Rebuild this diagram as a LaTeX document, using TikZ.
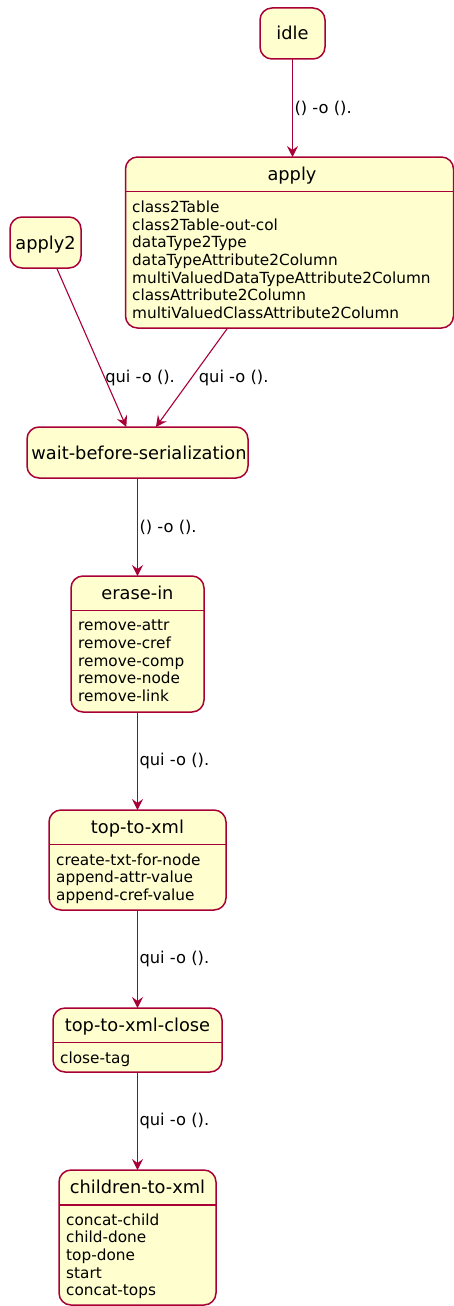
\documentclass[tikz,border=0pt]{standalone}
\usepackage{fontspec}
\setmainfont{DejaVu Sans}
\usetikzlibrary{arrows.meta}
\definecolor{bord}{HTML}{A80036}
\definecolor{fillc}{HTML}{FEFECE}
\begin{document}
\begin{tikzpicture}[x=1pt,y=-1pt,
  st/.style={draw=bord, fill=fillc, line width=1.5pt, rounded corners=12pt, inner sep=0pt, outer sep=0pt},
  ttl/.style={font=\fontsize{17.8}{20}\selectfont, anchor=base, inner sep=0pt},
  itm/.style={font=\fontsize{15.3}{17.7}\selectfont, anchor=base west, inner sep=0pt, text width=330pt, align=left},
  lbl/.style={font=\fontsize{16.3}{18}\selectfont, anchor=west, inner sep=1.5pt},
  sep/.style={draw=bord, line width=1.5pt},
  tr/.style={draw=bord, line width=1.1pt, -{Stealth[length=11pt,width=11pt,inset=4pt]}}
]
\useasboundingbox (0,0) rectangle (454,1306);

% states
\node[st, minimum width=65pt, minimum height=51pt] (idle) at (292.5,33.5) {};
\node[ttl] (idleT) at (292.5,40) {idle};

\node[st, minimum width=328pt, minimum height=171pt] (apply) at (289.5,242.5) {};
\node[ttl] (applyT) at (292,180) {apply};
\draw[sep] (125.5,191.7) -- (453.5,191.7);
\node[itm] (applyI) at (132,212.3) {class2Table\\class2Table-out-col\\dataType2Type\\dataTypeAttribute2Column\\multiValuedDataTypeAttribute2Column\\classAttribute2Column\\multiValuedClassAttribute2Column};

\node[st, minimum width=71pt, minimum height=51pt] (apply2) at (45.5,242.5) {};
\node[ttl] (apply2T) at (45.5,249) {apply2};

\node[st, minimum width=221pt, minimum height=51pt] (wait) at (137.5,452.5) {};
\node[ttl] (waitT) at (139,459) {wait-before-serialization};

\node[st, minimum width=133pt, minimum height=136pt] (erase) at (137.5,644) {};
\node[ttl] (eraseT) at (137.5,599.5) {erase-in};
\draw[sep] (71,610.7) -- (204,610.7);
\node[itm] (eraseI) at (78,630.7) {remove-attr\\remove-cref\\remove-comp\\remove-node\\remove-link};

\node[st, minimum width=177pt, minimum height=100pt] (top) at (137.5,860) {};
\node[ttl] (topT) at (137.5,833) {top-to-xml};
\draw[sep] (49,844.3) -- (226,844.3);
\node[itm] (topI) at (56,865) {create-txt-for-node\\append-attr-value\\append-cref-value};

\node[st, minimum width=169pt, minimum height=64pt] (close) at (137.5,1040) {};
\node[ttl] (closeT) at (137.5,1031.5) {top-to-xml-close};
\draw[sep] (53,1042.3) -- (222,1042.3);
\node[itm] (closeI) at (60,1063.3) {close-tag};

\node[st, minimum width=157pt, minimum height=135pt] (child) at (137.5,1237.5) {};
\node[ttl] (childT) at (137.5,1193.5) {children-to-xml};
\draw[sep] (59,1205) -- (216,1205);
\node[itm] (childI) at (66,1225) {concat-child\\child-done\\top-done\\start\\concat-tops};

% transitions
\draw[tr] (idle.south) -- node[lbl, midway] (l1) {() -o ().} (idle.south |- apply.north);
\draw[tr] (apply2) -- node[lbl, pos=0.69, inner sep=0pt] (l2) {qui -o ().} (wait);
\draw[tr] (apply) -- node[lbl, midway, xshift=5pt] (l3) {qui -o ().} (wait);
\draw[tr] (wait) -- node[lbl, midway] (l4) {() -o ().} (erase);
\draw[tr] (erase) -- node[lbl, midway] (l5) {qui -o ().} (top);
\draw[tr] (top) -- node[lbl, midway] (l6) {qui -o ().} (close);
\draw[tr] (close) -- node[lbl, midway] (l7) {qui -o ().} (child);
\end{tikzpicture}
\end{document}
